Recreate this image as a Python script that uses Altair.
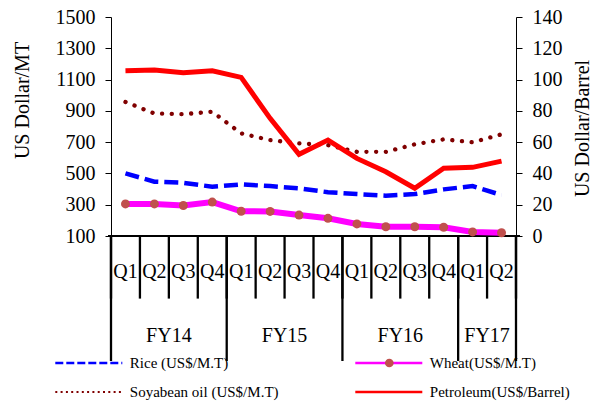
import altair as alt
import pandas as pd

# ---- data ----
quarters = ["Q1", "Q2", "Q3", "Q4", "Q1", "Q2", "Q3", "Q4", "Q1", "Q2", "Q3", "Q4", "Q1", "Q2"]
years = ["FY14"] * 4 + ["FY15"] * 4 + ["FY16"] * 4 + ["FY17"] * 2
rice = [500, 447, 440, 415, 430, 419, 405, 380, 368, 358, 368, 398, 419, 362]
wheat = [305, 305, 295, 317, 258, 257, 234, 213, 177, 159, 159, 156, 126, 121]
soybean = [957, 883, 879, 894, 756, 713, 692, 681, 638, 638, 686, 718, 699, 750]
petroleum = [105.6, 106.1, 104.4, 105.6, 101.4, 75.2, 52.2, 61.3, 49.6, 41.1, 30.5, 43.3, 43.9, 47.9]
left_ticks = [100, 300, 500, 700, 900, 1100, 1300, 1500]
right_ticks = [0, 20, 40, 60, 80, 100, 120, 140]
legend_keys = ["rice", "wheat", "soybean", "petroleum"]
legend_labels = ["Rice (US$/M.T)", "Wheat(US$/M.T)", "Soyabean oil (US$/M.T)", "Petroleum(US$/Barrel)"]

FONT = "Liberation Serif"
W, H = 405, 219
n = len(quarters)

df = pd.DataFrame({
    "idx": [i + 0.5 for i in range(n)],
    "quarter": quarters,
    "year": years,
    "rice": rice,
    "wheat": wheat,
    "soybean": soybean,
    "petroleum": petroleum,
})
bounds = pd.DataFrame({"b": list(range(n + 1))})
year_starts = [i for i in range(n) if i == 0 or years[i] != years[i - 1]] + [n]
ybounds = pd.DataFrame({"b": year_starts})
ylab = df.groupby("year", sort=False)["idx"].mean().reset_index()
leg = pd.DataFrame({"key": legend_keys, "label": legend_labels})

x_scale = alt.Scale(domain=[0, n], nice=False, zero=False)
left_scale = alt.Scale(domain=[100, 1500], nice=False, zero=False)
left_axis = alt.Axis(
    values=left_ticks, format="d", title="US Dollar/MT", orient="left", grid=False,
    tickSize=6, tickColor="black", domainColor="black",
    labelPadding=10, labelFontSize=20,
    titleFontSize=20, titleFontWeight="normal", titleAngle=270,
    titleX=-89, titleY=83, titleAlign="center", titleBaseline="middle",
)
right_scale = alt.Scale(domain=[0, 140], nice=False, zero=False)
right_axis = alt.Axis(
    values=right_ticks, format="d", title="US Dollar/Barrel", orient="right", grid=False,
    tickSize=6, tickColor="black", domainColor="black",
    labelPadding=10, labelFontSize=20,
    titleFontSize=20, titleFontWeight="normal", titleAngle=270,
    titleX=66, titleY=111, titleAlign="center", titleBaseline="middle",
)

base = alt.Chart(df)
xn = alt.X("idx:Q", scale=x_scale, axis=None)

# category axis: baseline, quarter separators, quarter labels, year separators, year labels
xline = base.mark_rule(color="black", strokeWidth=1.3).encode(
    x=alt.value(-3), x2=alt.value(W + 4), y=alt.value(H))
qrules = alt.Chart(bounds).mark_rule(color="black", strokeWidth=2.3).encode(
    x=alt.X("b:Q", scale=x_scale, axis=None), y=alt.value(H), y2=alt.value(281.6))
yrules = alt.Chart(ybounds).mark_rule(color="black", strokeWidth=2.3).encode(
    x=alt.X("b:Q", scale=x_scale, axis=None), y=alt.value(H), y2=alt.value(344))
qtext = base.mark_text(font=FONT, fontSize=20, baseline="middle", color="black").encode(
    x=xn, y=alt.value(255), text="quarter:N")
fytext = alt.Chart(ylab).mark_text(font=FONT, fontSize=20, baseline="middle", color="black").encode(
    x=xn, y=alt.value(318.5), text="year:N")

rice_l = base.mark_line(color="#0000FF", strokeWidth=4.5, strokeDash=[14, 6]).encode(
    x=xn, y=alt.Y("rice:Q", scale=left_scale, axis=left_axis))
soy_l = base.mark_line(color="#800000", strokeWidth=4.3, strokeDash=[0.1, 9.6], strokeCap="round").encode(
    x=xn, y=alt.Y("soybean:Q", scale=left_scale, axis=None))
wheat_l = base.mark_line(color="#FF00FF", strokeWidth=6).encode(
    x=xn, y=alt.Y("wheat:Q", scale=left_scale, axis=None))
wheat_p = base.mark_circle(size=80, color="#C0504D", opacity=1).encode(
    x=xn, y=alt.Y("wheat:Q", scale=left_scale, axis=None))
petro_l = base.mark_line(color="#FF0000", strokeWidth=5).encode(
    x=xn, y=alt.Y("petroleum:Q", scale=right_scale, axis=right_axis))

# ---- legend (layout positions relative to plot origin) ----
LEG_X0, LEG_DX = -55.7, 300.0   # symbol start of column 0, column spacing
LEG_Y0, LEG_DY = 346.0, 29.0    # row 0 centre, row spacing
SYM_LEN, TXT_DX = 67, 74.5
styles = {
    "rice": dict(color="#0000FF", strokeWidth=2.7, strokeDash=[8, 3]),
    "wheat": dict(color="#FF00FF", strokeWidth=2.7),
    "soybean": dict(color="#800000", strokeWidth=2, strokeDash=[2, 3.3]),
    "petroleum": dict(color="#FF0000", strokeWidth=2.7),
}
legend_layers = []
for i, key in enumerate(legend_keys):
    col, row = i % 2, i // 2
    x0 = LEG_X0 + col * LEG_DX
    y0 = LEG_Y0 + row * LEG_DY
    src = alt.Chart(leg).transform_filter(alt.datum.key == key)
    legend_layers.append(src.mark_rule(**styles[key]).encode(
        x=alt.value(x0), x2=alt.value(x0 + SYM_LEN), y=alt.value(y0)))
    if key == "wheat":
        legend_layers.append(src.mark_circle(size=75, color="#C0504D", opacity=1).encode(
            x=alt.value(x0 + 34), y=alt.value(y0)))
    legend_layers.append(src.mark_text(font=FONT, fontSize=15, align="left", baseline="middle", color="black").encode(
        x=alt.value(x0 + TXT_DX), y=alt.value(y0), text="label:N"))

chart = alt.layer(
    qrules, yrules, xline, qtext, fytext, rice_l, soy_l, wheat_l, wheat_p, petro_l, *legend_layers
).resolve_scale(y="independent").properties(
    width=W, height=H,
    autosize=alt.AutoSizeParams(type="none"),
    padding={"left": 103, "top": 9, "right": 76, "bottom": 175},
).configure_view(strokeWidth=0).configure_axis(
    labelFont=FONT, titleFont=FONT, labelColor="black", titleColor="black",
)

chart.save("out.html", embed_options={"renderer": "svg", "actions": False})
